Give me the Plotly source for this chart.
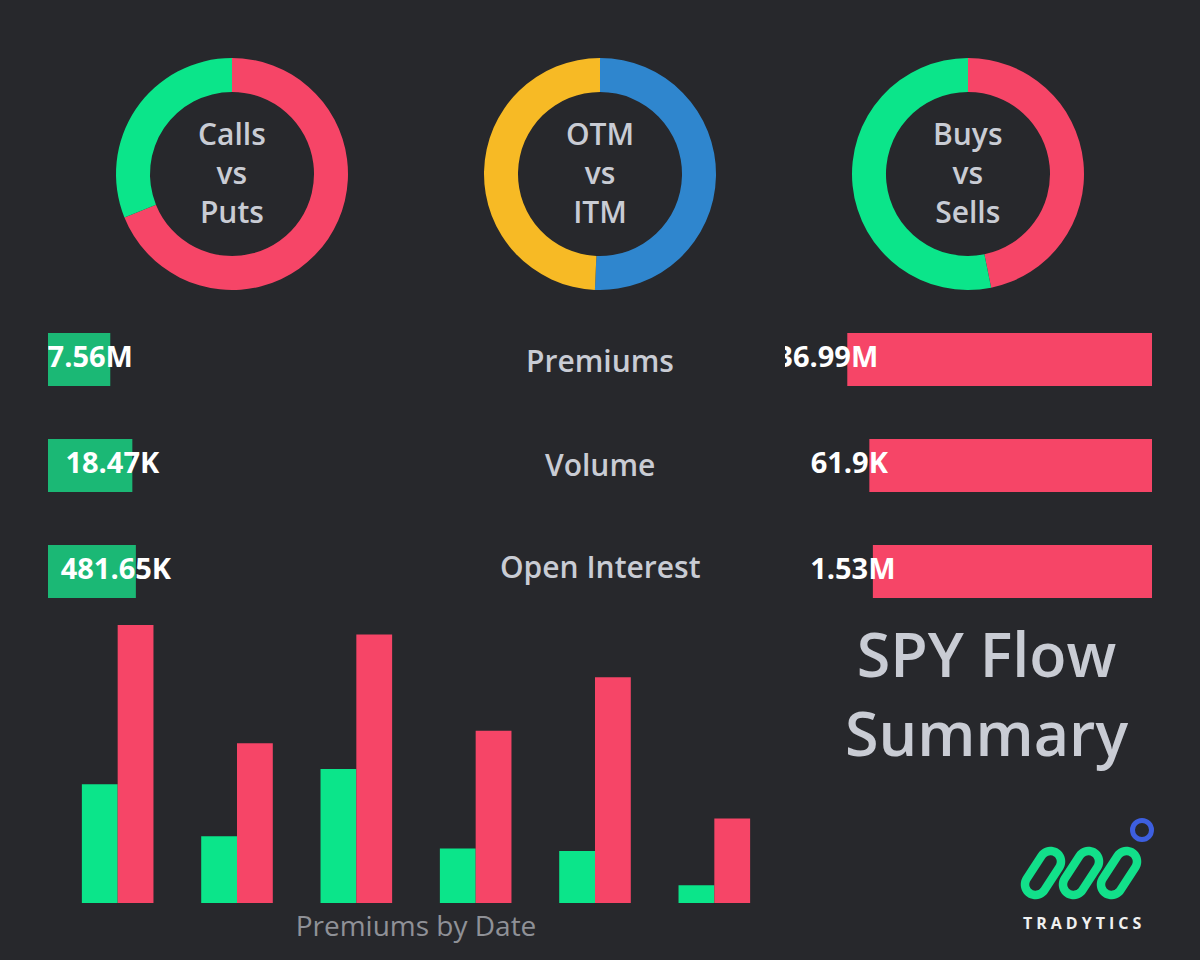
import numpy as np
import plotly.graph_objects as go

W, H = 1200, 960
BG = "#27282c"
GREEN = "#0be58a"
GREEN_BAR = "#1bb875"
RED = "#f64567"
YELLOW = "#f7ba25"
BLUE = "#2f86ce"
LABEL = "#c9ccd4"

# ---------------- data ----------------
donut_titles = ["Calls<br>vs<br>Puts", "OTM<br>vs<br>ITM", "Buys<br>vs<br>Sells"]
donut1_labels = ["Puts", "Calls"]
donut1_values = [68.9, 31.1]
donut2_labels = ["ITM", "OTM"]
donut2_values = [50.7, 49.3]
donut3_labels = ["Sells", "Buys"]
donut3_values = [46.8, 53.2]

metrics = ["Premiums", "Volume", "Open Interest"]
call_values = [7.56e6, 18.47e3, 481.65e3]
put_values = [36.99e6, 61.9e3, 1.53e6]
call_text = ["7.56M", "18.47K", "481.65K"]
put_text = ["36.99M", "61.9K", "1.53M"]

dates = ["Date 1", "Date 2", "Date 3", "Date 4", "Date 5", "Date 6"]
date_call_prem = [118.7, 66.7, 133.7, 54.4, 52.0, 17.7]
date_put_prem = [277.7, 159.4, 268.0, 172.0, 225.4, 84.4]

# ---------------- helpers ----------------
def px(x):
    return x / W

def py(y):
    return 1 - y / H

fig = go.Figure()

# ---------------- donuts ----------------
donuts = [
    (donut1_labels, donut1_values, [RED, GREEN], 232),
    (donut2_labels, donut2_values, [BLUE, YELLOW], 600),
    (donut3_labels, donut3_values, [RED, GREEN], 968),
]
R = 116
CY = 174
for labels, values, colors, cx in donuts:
    fig.add_trace(go.Pie(
        labels=labels, values=values, hole=0.707, sort=False,
        direction="clockwise", rotation=0,
        marker=dict(colors=colors, line=dict(width=0)),
        textinfo="none", hoverinfo="label+percent", showlegend=False,
        domain=dict(x=[px(cx - R), px(cx + R)], y=[py(CY + R), py(CY - R)]),
    ))

annotations = []
for title, (_, _, _, cx) in zip(donut_titles, donuts):
    annotations.append(dict(
        x=px(cx), y=py(172), xref="paper", yref="paper",
        text=title, showarrow=False, xanchor="center", yanchor="middle",
        font=dict(family="Open Sans", size=30, color=LABEL, weight=600),
    ))

# ---------------- horizontal share bars ----------------
totals = [c + p for c, p in zip(call_values, put_values)]
call_frac = [c / t for c, t in zip(call_values, totals)]
put_frac = [p / t for p, t in zip(put_values, totals)]
SPAN = 367.0  # pixels for a full share
shift = 20.0 / SPAN

fig.add_trace(go.Bar(
    x=call_frac, y=metrics, orientation="h", width=0.5,
    marker=dict(color=GREEN_BAR, line=dict(width=0)),
    xaxis="x", yaxis="y", showlegend=False, hoverinfo="skip",
))
fig.add_trace(go.Scatter(
    x=[f - shift for f in call_frac], y=metrics, mode="text", text=call_text,
    textposition="middle center", cliponaxis=True,
    textfont=dict(family="Open Sans", size=29, color="#ffffff", weight=700),
    xaxis="x", yaxis="y", showlegend=False, hoverinfo="skip",
))
fig.add_trace(go.Bar(
    x=put_frac, y=metrics, orientation="h", width=0.5,
    marker=dict(color=RED, line=dict(width=0)),
    xaxis="x2", yaxis="y2", showlegend=False, hoverinfo="skip",
))
fig.add_trace(go.Scatter(
    x=[f + shift for f in put_frac], y=metrics, mode="text", text=put_text,
    textposition="middle center", cliponaxis=True,
    textfont=dict(family="Open Sans", size=29, color="#ffffff", weight=700),
    xaxis="x2", yaxis="y2", showlegend=False, hoverinfo="skip",
))

row_y = [361, 464, 566]
for m, yv in zip(metrics, row_y):
    annotations.append(dict(
        x=0.5, y=py(yv), xref="paper", yref="paper", text=m, showarrow=False,
        xanchor="center", yanchor="middle",
        font=dict(family="Open Sans", size=30, color=LABEL, weight=600),
    ))

# ---------------- premiums by date ----------------
fig.add_trace(go.Bar(
    x=dates, y=date_call_prem, name="Calls", marker=dict(color=GREEN, line=dict(width=0)),
    xaxis="x3", yaxis="y3", showlegend=False,
))
fig.add_trace(go.Bar(
    x=dates, y=date_put_prem, name="Puts", marker=dict(color=RED, line=dict(width=0)),
    xaxis="x3", yaxis="y3", showlegend=False,
))

# ---------------- title ----------------
annotations.append(dict(
    x=px(986), y=py(693), xref="paper", yref="paper", text="SPY Flow<br>Summary",
    showarrow=False, xanchor="center", yanchor="middle",
    font=dict(family="Open Sans", size=61, color=LABEL, weight=600),
))

# ---------------- logo ----------------
shapes = []
def capsule_path(cx, cy, dx, dy, r, n=24):
    # centerline endpoints: bottom (cx-dx, cy+dy), top (cx+dx, cy-dy)
    p0 = np.array([cx - dx, cy + dy])
    p1 = np.array([cx + dx, cy - dy])
    d = (p1 - p0) / np.linalg.norm(p1 - p0)
    ang = np.arctan2(d[1], d[0])
    pts = []
    for t in np.linspace(ang - np.pi / 2, ang + np.pi / 2, n):
        pts.append(p1 + r * np.array([np.cos(t), np.sin(t)]))
    for t in np.linspace(ang + np.pi / 2, ang + 3 * np.pi / 2, n):
        pts.append(p0 + r * np.array([np.cos(t), np.sin(t)]))
    s = "M " + " L ".join(f"{px(x):.5f},{py(y):.5f}" for x, y in pts) + " Z"
    return s

for cx in [1043, 1081, 1119]:
    shapes.append(dict(
        type="path", path=capsule_path(cx, 873, 7.5, 11.5, 10.5),
        xref="paper", yref="paper", line=dict(color="#12e08a", width=8.5),
        fillcolor="rgba(0,0,0,0)", layer="above",
    ))
shapes.append(dict(
    type="circle", xref="paper", yref="paper",
    x0=px(1142 - 9.5), x1=px(1142 + 9.5), y0=py(830 + 9.5), y1=py(830 - 9.5),
    line=dict(color="#3d5fe0", width=5), layer="above",
))
annotations.append(dict(
    x=px(1082), y=py(923), xref="paper", yref="paper",
    text="\u2005".join("TRADYTICS"), showarrow=False,
    xanchor="center", yanchor="middle",
    font=dict(family="Open Sans", size=16, color="#f0f0f0", weight=700),
))

hidden = dict(visible=False, fixedrange=True)
fig.update_layout(
    width=W, height=H, margin=dict(l=0, r=0, t=0, b=0),
    paper_bgcolor=BG, plot_bgcolor=BG,
    barmode="group", bargap=0.4, bargroupgap=0,
    xaxis=dict(domain=[px(48), px(48 + SPAN)], range=[0, 1], anchor="y", **hidden),
    yaxis=dict(domain=[py(624.5), py(306.5)], type="category", anchor="x",
               categoryarray=metrics, range=[2.5, -0.5], **hidden),
    xaxis2=dict(domain=[px(1152 - SPAN), px(1152)], range=[1, 0], anchor="y2", **hidden),
    yaxis2=dict(domain=[py(624.5), py(306.5)], type="category", anchor="x2",
                categoryarray=metrics, range=[2.5, -0.5], **hidden),
    xaxis3=dict(domain=[px(58), px(774)], anchor="y3", showticklabels=False,
                showgrid=False, zeroline=False, showline=False, ticks="",
                fixedrange=True,
                title=dict(text="Premiums by Date", standoff=13,
                           font=dict(family="Open Sans", size=28, color="#8f9197")),
                automargin=False),
    yaxis3=dict(domain=[py(903), py(611)], anchor="x3",
                range=[0, max(date_put_prem) * 1.05], visible=False, fixedrange=True),
    annotations=annotations, shapes=shapes,
)

fig.write_html("out.html")
